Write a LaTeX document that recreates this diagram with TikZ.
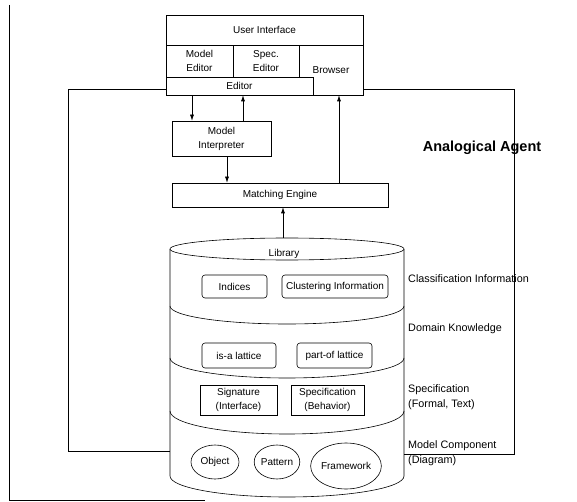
\documentclass[tikz,border=0pt]{standalone}
\usepackage{fontspec}
\setmainfont{Liberation Sans}
\usetikzlibrary{arrows.meta,shapes.geometric}
\begin{document}
\begin{tikzpicture}[x=1pt,y=-1pt,
  ln/.style={line width=0.6pt},
  cell/.style={draw, ln, inner sep=0pt, align=center, font=\fontsize{10}{14}\selectfont},
  rbox/.style={cell, rounded corners=3pt},
  oval/.style={ellipse, draw, ln, inner sep=0pt, font=\fontsize{10}{12}\selectfont},
  side/.style={anchor=west, inner sep=0pt, align=left, font=\fontsize{10.8}{15}\selectfont},
  arr/.style={ln, -{Latex[length=6pt,width=4pt]}}
]
\useasboundingbox (0,0) rectangle (577,502);

% page frame
\coordinate (ft) at (9,5);
\coordinate (fb) at (9,500);
\coordinate (fe) at (205,500);
\draw[ln] (ft) -- (fb) -- (fe);

% user interface block
\node[cell, minimum width=197pt, minimum height=30pt] (ui) at (264.5,30) {User Interface};
\node[cell, minimum width=67pt, minimum height=32pt] (medit) at (199.5,61) {Model\\Editor};
\node[cell, minimum width=66pt, minimum height=32pt] (sedit) at (266,61) {Spec.\\Editor};
\node[cell, minimum width=147pt, minimum height=18pt] (editor) at (239.5,86) {Editor};
\node[cell, draw=none, minimum width=64pt, minimum height=50pt] (browser) at (331,70) {Browser};
\draw[ln] (browser.north east) -- (browser.south east) -- (editor.south east);

% processing boxes
\node[cell, minimum width=99pt, minimum height=35pt] (mi) at (221.5,138.5) {Model\\Interpreter};
\node[cell, minimum width=216pt, minimum height=24pt] (me) at (280,195) {Matching Engine};

% library cylinder
\node[inner sep=0pt, minimum width=234pt, minimum height=259pt] (lib) at (287,367.5) {};
\draw[ln] (170,249) -- (170,476) arc[start angle=180, end angle=0, x radius=117, y radius=21] -- (404,249);
\draw[ln] (287,249) ellipse [x radius=117, y radius=11];
\draw[ln] (170,306) arc[start angle=180, end angle=0, x radius=117, y radius=18];
\draw[ln] (170,358) arc[start angle=180, end angle=0, x radius=117, y radius=20];
\draw[ln] (170,411) arc[start angle=180, end angle=0, x radius=117, y radius=23];
\node[inner sep=0pt, font=\fontsize{10}{12}\selectfont] (libname) at (284,254) {Library};

\node[rbox, minimum width=65pt, minimum height=23pt] (idx) at (234.5,286.5) {Indices};
\node[rbox, minimum width=106pt, minimum height=23pt] (clu) at (335,286.5) {Clustering Information};
\node[rbox, minimum width=74pt, minimum height=25pt] (isa) at (239,355.5) {is-a lattice};
\node[rbox, minimum width=75pt, minimum height=25pt] (part) at (334.5,355.5) {part-of lattice};
\node[cell, minimum width=77pt, minimum height=30pt] (sig) at (238.5,400) {Signature\\(Interface)};
\node[cell, minimum width=73pt, minimum height=30pt] (spec) at (327.5,400) {Specification\\(Behavior)};
\node[oval, minimum width=48pt, minimum height=34pt] (obj) at (215,462) {Object};
\node[oval, minimum width=40pt, minimum height=34pt] (pat) at (277,462) {Pattern};
\node[oval, minimum width=60pt, minimum height=46pt] (fw) at (346,466) {Framework};

% layer captions
\node[side] (lclass) at (408,279) {Classification Information};
\node[side] (ldom) at (408,329) {Domain Knowledge};
\node[side] (lspec) at (408,397.5) {Specification\\(Formal, Text)};
\node[side] (lmod) at (408,453.5) {Model Component\\(Diagram)};

% feedback loops
\coordinate (lt) at (68,89);
\coordinate (lb) at (68,451);
\coordinate (rt) at (514,89);
\coordinate (rb) at (514,454);
\draw[ln] (editor.west |- lt) -- (lt) -- (lb) -- (lib.west |- lb);
\draw[ln] (browser.east |- rt) -- (rt) -- (rb) -- (lib.east |- rb);

\node[inner sep=0pt, font=\fontsize{14.5}{16}\selectfont\bfseries] (agent) at (482,148) {Analogical Agent};

% data flow arrows
\coordinate (c1) at (192,0);
\coordinate (c2) at (243,0);
\coordinate (c3) at (339,0);
\coordinate (c4) at (227,0);
\coordinate (c5) at (283,0);
\draw[arr] (editor.south -| c1) -- (mi.north -| c1);
\draw[arr] (mi.north -| c2) -- (editor.south -| c2);
\draw[arr] (me.north -| c3) -- (browser.south -| c3);
\draw[arr] (mi.south -| c4) -- (me.north -| c4);
\draw[arr] (lib.north -| c5) -- (me.south -| c5);
\end{tikzpicture}
\end{document}
